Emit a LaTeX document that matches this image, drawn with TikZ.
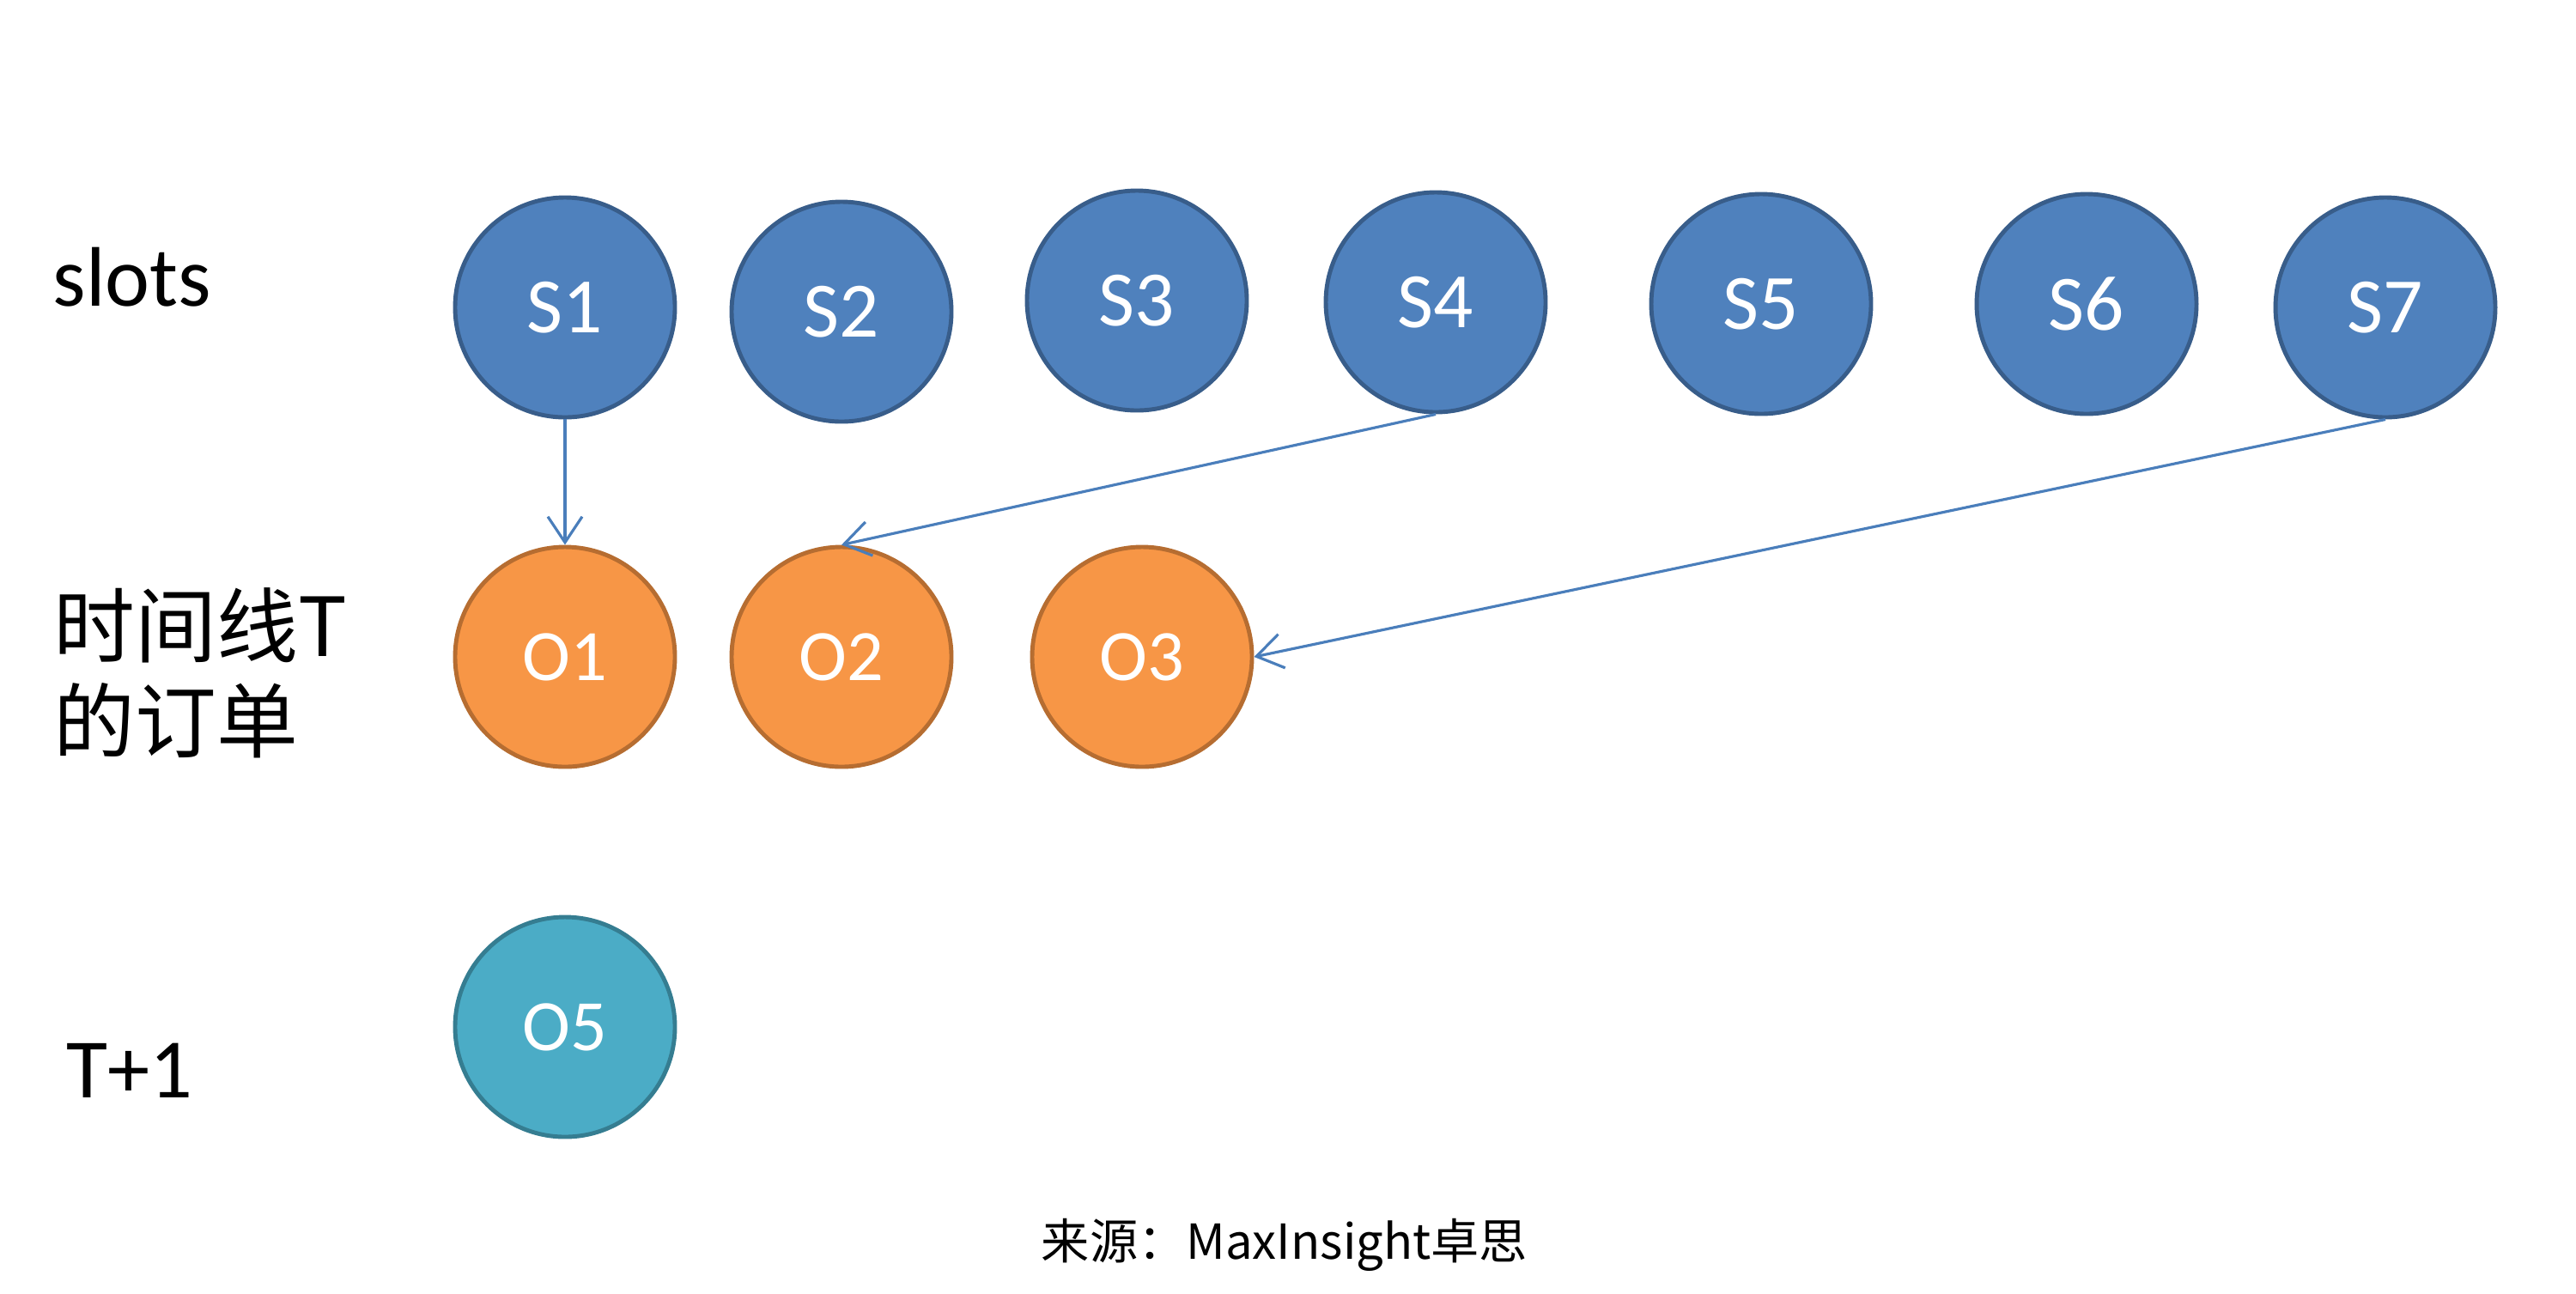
\documentclass[tikz,border=0pt]{standalone}
\usepackage{fontspec}
\setmainfont{Carlito}
\newfontfamily\cjk{Noto Sans CJK SC}
\usetikzlibrary{arrows.meta}
\definecolor{slotfill}{HTML}{4F81BD}
\definecolor{slotdraw}{HTML}{385D8A}
\definecolor{orderfill}{HTML}{F79646}
\definecolor{orderdraw}{HTML}{B66D31}
\definecolor{nextfill}{HTML}{4BACC6}
\definecolor{nextdraw}{HTML}{357D91}
\definecolor{linkblue}{HTML}{4A7EBB}
\tikzset{%
  >={Straight Barb[width=4mm,length=3mm]},
  % Specifications for style of nodes:
        base/.style = {circle, minimum size=2.56cm, inner sep=0pt,
                       line width=1.4pt, text=white},
        slot/.style = {base, draw=slotdraw, fill=slotfill,
                       font=\fontsize{26}{30}\selectfont},
       order/.style = {base, draw=orderdraw, fill=orderfill,
                       font=\fontsize{24}{28}\selectfont},
   nextorder/.style = {base, draw=nextdraw, fill=nextfill,
                       font=\fontsize{24}{28}\selectfont},
    rowlabel/.style = {inner sep=0pt, font=\fontsize{28}{32}\selectfont},
        link/.style = {->, draw=linkblue, line width=0.9pt},
                   }
\begin{document}
\begin{tikzpicture}
  \useasboundingbox (0,0) rectangle (30,-15.06);
  % Row labels on the left
  \node (slotsLabel) [rowlabel, anchor=base west] at (0.61,-3.56) {slots};
  \node (ordersLabel) [rowlabel, anchor=north west, align=left,
        font=\cjk\fontsize{27}{31.5}\selectfont] at (0.62,-6.84) {时间线T\\的订单};
  \node (nextLabel) [rowlabel, anchor=base west] at (0.77,-12.78) {T+1};

  % Slots
  \node (S1) [slot] at (6.58,-3.58) {S1};
  \node (S2) [slot] at (9.80,-3.63) {S2};
  \node (S3) [slot] at (13.24,-3.50) {S3};
  \node (S4) [slot] at (16.72,-3.52) {S4};
  \node (S5) [slot] at (20.51,-3.54) {S5};
  \node (S6) [slot] at (24.30,-3.54) {S6};
  \node (S7) [slot] at (27.78,-3.58) {S7};

  % Orders at time T and T+1
  \node (O1) [order] at (6.58,-7.65) {O1};
  \node (O2) [order] at (9.80,-7.65) {O2};
  \node (O3) [order] at (13.30,-7.65) {O3};
  \node (O5) [nextorder] at (6.58,-11.96) {O5};

  % Assignment of slots to orders
  \draw[link] (S1) -- (O1);
  \draw[link] (S4.south) -- (O2.north);
  \draw[link] (S7.south) -- (O3.east);

  % Source
  \node (source) [inner sep=0pt, anchor=base, font=\cjk\fontsize{16}{19}\selectfont]
        at (14.96,-14.66) {来源：MaxInsight卓思};
\end{tikzpicture}
\end{document}
